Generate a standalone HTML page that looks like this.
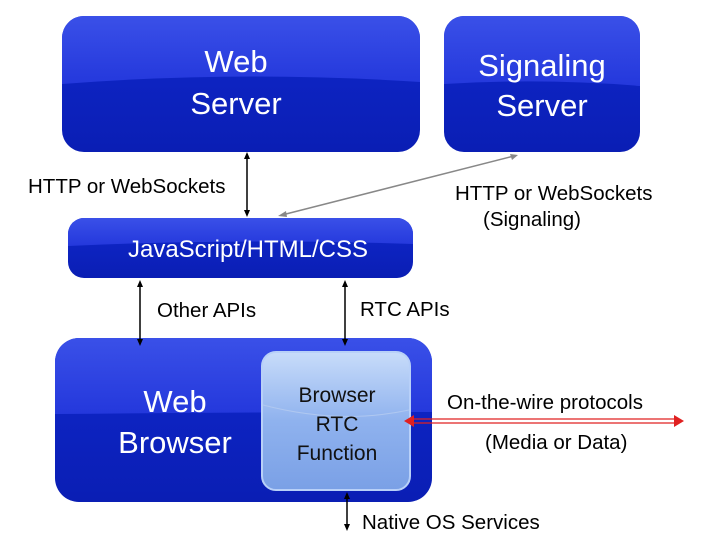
<!DOCTYPE html>
<html><head><meta charset="utf-8"><style>
html,body{margin:0;padding:0;background:#fff;}
svg{display:block;}
text{font-family:"Liberation Sans",sans-serif;}
</style></head><body>
<svg width="720" height="542" viewBox="0 0 720 542" xmlns="http://www.w3.org/2000/svg">
<defs>
<linearGradient id="top" x1="0" y1="0" x2="0" y2="1">
<stop offset="0" stop-color="#3a50e8"/><stop offset="1" stop-color="#2438dc"/></linearGradient>
<linearGradient id="bot" x1="0" y1="0" x2="0" y2="1">
<stop offset="0" stop-color="#1028cc"/><stop offset="1" stop-color="#0a1eb4"/></linearGradient>
<linearGradient id="inner" x1="0" y1="0" x2="0" y2="1">
<stop offset="0" stop-color="#c8dcfa"/><stop offset="0.5" stop-color="#8fb2ee"/><stop offset="1" stop-color="#7aa0e6"/></linearGradient>
<clipPath id="c1"><rect x="62" y="16" width="358" height="136" rx="22"/></clipPath>
<clipPath id="c2"><rect x="444" y="16" width="196" height="136" rx="20"/></clipPath>
<clipPath id="c3"><rect x="68" y="218" width="345" height="60" rx="16"/></clipPath>
<clipPath id="c4"><rect x="55" y="338" width="377" height="164" rx="24"/></clipPath>
</defs>
<g clip-path="url(#c1)">
<rect x="62" y="16" width="358" height="136" fill="url(#bot)"/>
<path d="M62 16 H420 V82 Q241 70 62 84 Z" fill="url(#top)"/>
</g>
<g clip-path="url(#c2)">
<rect x="444" y="16" width="196" height="136" fill="url(#bot)"/>
<path d="M444 16 H640 V86 Q542 78 444 84 Z" fill="url(#top)"/>
</g>
<g clip-path="url(#c3)">
<rect x="68" y="218" width="345" height="60" fill="url(#bot)"/>
<path d="M68 218 H413 V244 Q240 238 68 246 Z" fill="url(#top)"/>
</g>
<g clip-path="url(#c4)">
<rect x="55" y="338" width="377" height="164" fill="url(#bot)"/>
<path d="M55 338 H432 V412 Q250 412 55 414 Z" fill="url(#top)"/>
</g>
<rect x="262" y="352" width="148" height="138" rx="14" fill="url(#inner)" stroke="#b8d0f8" stroke-width="2"/>
<path d="M263 405 Q340 425 409 410" stroke="#b0c8f0" stroke-width="1" fill="none"/>

<g fill="#fff" font-size="31" text-anchor="middle">
<text x="236" y="72">Web</text><text x="236" y="114">Server</text>
<text x="542" y="76">Signaling</text><text x="542" y="116">Server</text>
<text x="175" y="412">Web</text><text x="175" y="453">Browser</text>
<text x="248" y="257" font-size="24">JavaScript/HTML/CSS</text>
</g>
<g fill="#111" font-size="21" text-anchor="middle">
<text x="337" y="402">Browser</text><text x="337" y="431">RTC</text><text x="337" y="460">Function</text>
</g>
<g fill="#000" font-size="20.5">
<text x="28" y="193">HTTP or WebSockets</text>
<text x="455" y="200">HTTP or WebSockets</text>
<text x="483" y="226">(Signaling)</text>
<text x="157" y="317">Other APIs</text>
<text x="360" y="316">RTC APIs</text>
<text x="447" y="409">On-the-wire protocols</text>
<text x="485" y="449">(Media or Data)</text>
<text x="362" y="529">Native OS Services</text>
</g>
<g stroke="#000" stroke-width="1.5" fill="#000">
<line x1="247" y1="156" x2="247" y2="213"/>
<path d="M247 152 l-3 7 h6 z M247 217 l-3 -7 h6 z" stroke="none"/>
<line x1="140" y1="284" x2="140" y2="342"/>
<path d="M140 280 l-3 7 h6 z M140 346 l-3 -7 h6 z" stroke="none"/>
<line x1="345" y1="284" x2="345" y2="342"/>
<path d="M345 280 l-3 7 h6 z M345 346 l-3 -7 h6 z" stroke="none"/>
<line x1="347" y1="496" x2="347" y2="527"/>
<path d="M347 492 l-3 7 h6 z M347 531 l-3 -7 h6 z" stroke="none"/>
</g>
<line x1="514" y1="156" x2="282" y2="215" stroke="#888" stroke-width="1.5"/>
<path d="M518 155 l-8 -1 l2 6 z M278 216 l8 -5 l1 6 z" fill="#888"/>
<g stroke="#e02020" stroke-width="1.2">
<line x1="410" y1="419" x2="676" y2="419"/>
<line x1="410" y1="423" x2="676" y2="423"/>
</g>
<path d="M404 421 l10 -6 v12 z M684 421 l-10 -6 v12 z" fill="#e02020"/>
</svg>
</body></html>
